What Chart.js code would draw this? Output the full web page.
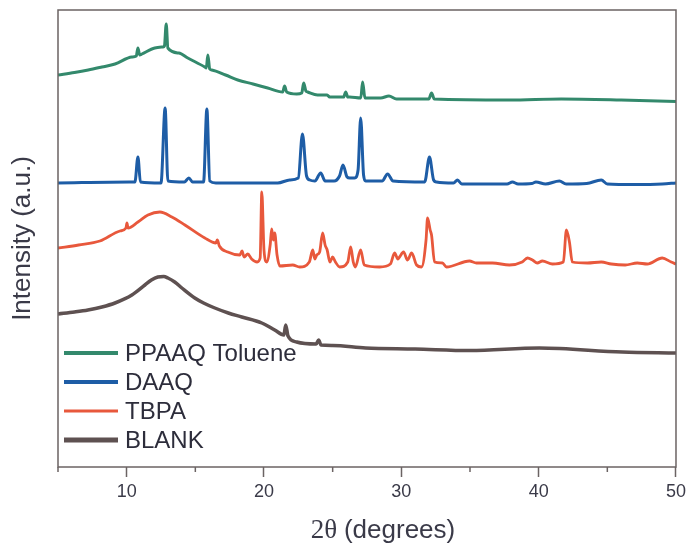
<!DOCTYPE html>
<html lang="en">
<head>
  <meta charset="UTF-8" />
  <title>XRD patterns</title>
  <script src="https://cdn.jsdelivr.net/npm/chart.js"></script>
  <style>
    body { margin: 0; background: #fff; }
    #wrap { width: 690px; height: 547px; }
  </style>
</head>
<body>
  <div id="wrap"><canvas id="xrd" width="690" height="547"></canvas></div>

  <script>
    // 2θ positions and intensities (a.u., offset stacked)
    const ppaaqX = [5, 6.2, 7.2, 8.2, 9.15, 10.38, 10.7, 10.82, 10.95, 11.11, 12.05, 12.64, 12.75, 12.88, 13.0, 13.8, 14.45, 15.69, 15.8, 15.91, 16.05, 16.2, 17.2, 18.09, 19.2, 20.27, 21.36, 21.5, 21.65, 22.38, 22.75, 22.89, 23.05, 23.18, 23.9, 24.6, 24.78, 25.8, 25.95, 26.1, 26.24, 27.05, 27.18, 27.35, 28.5, 29.1, 29.65, 32.0, 32.2, 32.4, 37.87, 41.65, 46, 50];
    const ppaaqY = [392, 394.5, 397, 400, 403, 410, 411, 419, 412, 413, 419, 420, 421, 443, 419, 414, 409, 400, 399, 412, 398, 397, 392, 387, 383, 379, 375, 381, 375, 373, 374, 384, 376, 375, 372, 372, 370, 370, 375, 370, 370, 369, 385, 369, 369, 371, 368, 368, 374, 368, 367, 368, 367, 365.5];

    const daaqX = [5, 10.2, 10.6, 10.82, 11.0, 12.5, 12.8, 13.0, 14.2, 14.53, 14.8, 15.6, 15.84, 16.05, 16.5, 21.0, 21.87, 22.5, 22.8, 23.1, 23.33, 23.7, 24.13, 24.45, 25.1, 25.5, 25.75, 26.05, 26.24, 26.6, 26.85, 27.04, 27.25, 27.4, 28.6, 29.0, 29.4, 31.7, 32.05, 32.35, 32.56, 33.8, 34.09, 34.4, 37.7, 38.09, 38.5, 39.5, 39.8, 40.5, 41.51, 42.0, 43.5, 44.56, 45.0, 47, 49, 50];
    const daaqY = [284, 285, 285, 310, 285, 284, 359, 286, 285, 289, 285, 285, 358, 286, 284, 284, 287, 289, 333, 291, 287, 286, 294, 286, 286, 291, 302, 290, 289, 289, 297, 349, 292, 286, 286, 293, 286, 285, 310, 287, 285, 284, 287, 283, 283, 285, 283, 283.5, 285, 283, 286, 283, 283.5, 287, 283, 282.5, 283, 284];

    const tbpaX = [5, 6.5, 8.05, 9.51, 9.95, 10.02, 10.1, 10.82, 11.55, 12.42, 13.29, 14.24, 15.69, 16.5, 16.6, 16.75, 17.36, 18.24, 18.4, 18.55, 18.82, 19.1, 19.5, 19.72, 19.84, 20.0, 20.2, 20.45, 20.56, 20.68, 20.78, 20.95, 21.15, 22.09, 22.6, 23.3, 23.55, 23.7, 23.84, 24.05, 24.27, 24.45, 24.6, 24.8, 25.0, 25.2, 25.51, 26.1, 26.31, 26.5, 26.65, 27.04, 27.3, 28.42, 29.2, 29.51, 29.75, 29.87, 30.16, 30.45, 30.75, 31.11, 31.47, 31.8, 31.91, 32.1, 32.2, 32.42, 32.99, 33.29, 34.96, 35.47, 36.64, 37.87, 38.8, 39.18, 39.55, 39.9, 40.27, 41.0, 41.8, 42.02, 42.24, 42.45, 43.55, 44.56, 45.29, 46.3, 47.18, 47.91, 49.0, 49.65, 50];
    const tbpaY = [219, 222, 226, 236, 239, 244, 239, 245, 252, 255, 250, 242, 229, 224, 227, 221, 215, 212, 216, 210, 213, 208, 205, 209, 275, 217, 205, 222, 238, 227, 234, 212, 201, 202, 200, 205, 217, 208, 212, 215, 234, 222, 217, 205, 210, 205, 200, 205, 220, 205, 200, 217, 202, 200, 203, 214, 208, 210, 215, 207, 214, 202, 200, 227, 249, 237, 232, 205, 204, 200, 206, 204, 204, 202, 205, 209, 207, 204, 206, 203, 205, 237, 225, 205, 204, 205, 203, 202, 204, 203, 209, 205, 203];

    const blankX = [5, 6.2, 7.18, 8.2, 9.15, 10.38, 11.33, 11.8, 12.27, 12.7, 13.0, 13.5, 14.02, 14.96, 15.6, 16.42, 17.4, 18.38, 19.84, 20.78, 21.45, 21.58, 21.75, 22.38, 23.8, 23.98, 24.15, 25.0, 27.4, 31, 35, 40.05, 46.09, 50];
    const blankY = [153, 155, 157, 160, 164, 172, 182, 187, 190, 190.5, 189, 185, 179, 169, 164, 159, 154, 150, 144, 137, 132, 142, 131, 125, 123, 127, 122, 121.5, 119, 118, 116.5, 119, 115, 114];

    const seriesNames = ['PPAAQ Toluene', 'DAAQ', 'TBPA', 'BLANK'];
    const seriesColors = ['#33896c', '#1e5da6', '#e8583c', '#5e5151'];
    const xTicks = [10, 20, 30, 40, 50];

    const FONT = "'Liberation Sans', Arial, sans-serif";
    const AXIS = '#6b6363';
    const TEXT = '#3a3a48';

    function pts(xs, ys) {
      return xs.map((x, i) => ({ x: x, y: ys[i] }));
    }

    // box around the plot, short minor ticks, x title, legend inside the plot
    const framePlugin = {
      id: 'frame',
      afterDraw(chart) {
        const { ctx, chartArea: a, scales } = chart;
        ctx.save();
        ctx.strokeStyle = AXIS;
        ctx.lineWidth = 1.5;
        ctx.strokeRect(a.left, a.top, a.right - a.left, a.bottom - a.top);

        // minor ticks at the 5s
        for (let v = 5; v < 50; v += 10) {
          const px = scales.x.getPixelForValue(v);
          ctx.beginPath();
          ctx.moveTo(px, a.bottom);
          ctx.lineTo(px, a.bottom + 5);
          ctx.stroke();
        }

        // x axis title: serif 2θ, sans (degrees)
        ctx.fillStyle = TEXT;
        ctx.textBaseline = 'alphabetic';
        ctx.font = "27px 'Liberation Serif', 'Times New Roman', serif";
        const part1 = '2θ ';
        const w1 = ctx.measureText(part1).width;
        ctx.font = '26px ' + FONT;
        const part2 = '(degrees)';
        const w2 = ctx.measureText(part2).width;
        const startX = 383 - (w1 + w2) / 2;
        ctx.font = "27px 'Liberation Serif', 'Times New Roman', serif";
        ctx.fillText(part1, startX, 538);
        ctx.font = '26px ' + FONT;
        ctx.fillText(part2, startX + w1, 538);

        // legend
        const rowY = [353, 382, 411, 440];
        const legW = [4, 4, 3, 5];
        ctx.font = '24px ' + FONT;
        ctx.textBaseline = 'middle';
        ctx.fillStyle = '#2d2d3b';
        chart.data.datasets.forEach((ds, i) => {
          ctx.strokeStyle = ds.borderColor;
          ctx.lineWidth = legW[i];
          ctx.beginPath();
          ctx.moveTo(64, rowY[i]);
          ctx.lineTo(118, rowY[i]);
          ctx.stroke();
          ctx.fillText(ds.label, 125, rowY[i] + 1);
        });
        ctx.restore();
      }
    };

    new Chart(document.getElementById('xrd'), {
      type: 'line',
      data: {
        datasets: [
          { label: seriesNames[0], data: pts(ppaaqX, ppaaqY), borderColor: seriesColors[0], borderWidth: 3 },
          { label: seriesNames[1], data: pts(daaqX, daaqY), borderColor: seriesColors[1], borderWidth: 3 },
          { label: seriesNames[2], data: pts(tbpaX, tbpaY), borderColor: seriesColors[2], borderWidth: 2.8 },
          { label: seriesNames[3], data: pts(blankX, blankY), borderColor: seriesColors[3], borderWidth: 3.5 }
        ]
      },
      options: {
        responsive: false,
        animation: false,
        elements: {
          point: { radius: 0 },
          line: { cubicInterpolationMode: 'monotone', borderJoinStyle: 'round' }
        },
        layout: { padding: { left: 0, right: 12, top: 10, bottom: 0 } },
        plugins: { legend: { display: false }, tooltip: { enabled: false } },
        scales: {
          x: {
            type: 'linear',
            min: 5,
            max: 50,
            afterFit: s => { s.height = 80; },
            border: { display: false },
            grid: {
              drawOnChartArea: false,
              tickLength: 10,
              tickWidth: 1.5,
              tickColor: c => (xTicks.includes(c.tick.value) ? AXIS : 'rgba(0,0,0,0)')
            },
            ticks: {
              stepSize: 5,
              autoSkip: false,
              maxRotation: 0,
              padding: 4,
              color: TEXT,
              font: { family: FONT, size: 18 },
              callback: v => (xTicks.includes(v) ? String(v) : '')
            }
          },
          y: {
            min: 0,
            max: 457,
            afterFit: s => { s.width = 58; },
            border: { display: false },
            grid: { display: false },
            ticks: { display: false },
            title: {
              display: true,
              text: 'Intensity (a.u.)',
              color: TEXT,
              font: { family: FONT, size: 26 },
              padding: { top: 7, bottom: 0 }
            }
          }
        }
      },
      plugins: [framePlugin]
    });
  </script>
</body>
</html>
